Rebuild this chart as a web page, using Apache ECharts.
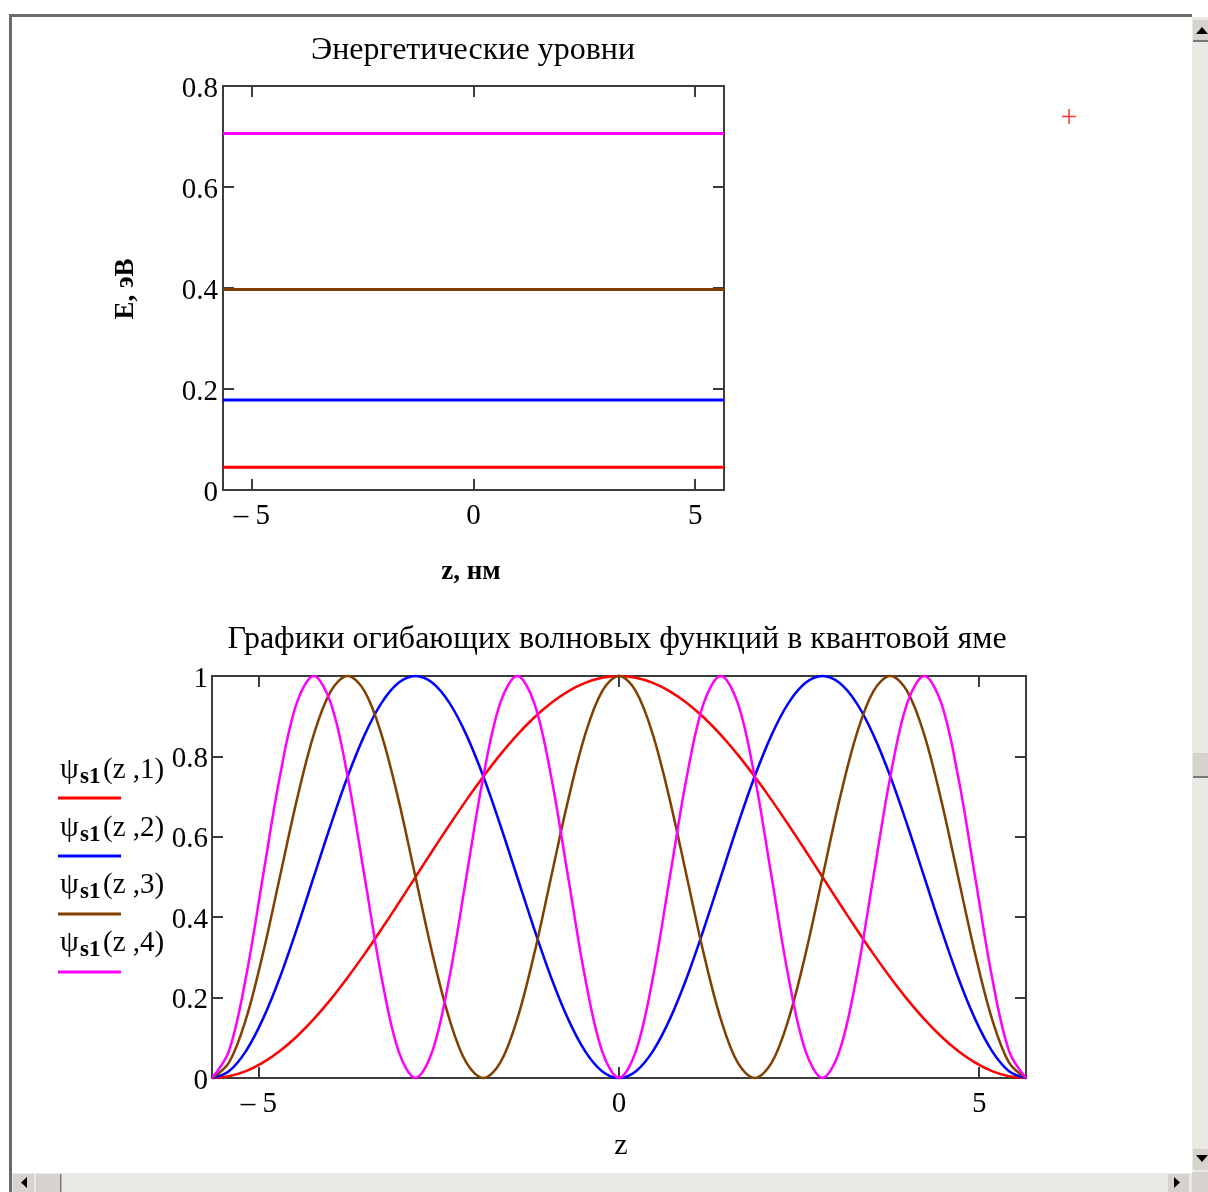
<!DOCTYPE html>
<html>
<head>
<meta charset="utf-8">
<script src="https://cdn.jsdelivr.net/npm/echarts@6/dist/echarts.min.js"></script>
<style>
  html, body { margin: 0; padding: 0; background: #ffffff; }
  #chart { width: 1208px; height: 1192px; }
</style>
</head>
<body>
<div id="chart"></div>
<script>
// ---- data ----
// energy levels of the well, eV (states 1..4)
const levelValues = [0.045, 0.178, 0.397, 0.706];
// well edges, nm
const wellEdges = [-5.65, 5.65];

// z coordinate, nm
const zValues = [
  -5.650, -5.415, -5.179, -4.944, -4.708, -4.473, -4.238, -4.002, -3.767, -3.531,
  -3.296, -3.060, -2.825, -2.590, -2.354, -2.119, -1.883, -1.648, -1.413, -1.177,
  -0.942, -0.706, -0.471, -0.235, 0,
  0.235, 0.471, 0.706, 0.942, 1.177, 1.413, 1.648, 1.883, 2.119, 2.354,
  2.590, 2.825, 3.060, 3.296, 3.531, 3.767, 4.002, 4.238, 4.473, 4.708,
  4.944, 5.179, 5.415, 5.650
];
// envelope functions psi_s1(z, n), n = 1..4
const psi1 = [
  0, 0.0043, 0.0170, 0.0381, 0.0670, 0.1033, 0.1464, 0.1956, 0.25, 0.3087,
  0.3706, 0.4347, 0.5, 0.5653, 0.6294, 0.6913, 0.75, 0.8044, 0.8536, 0.8967,
  0.9330, 0.9619, 0.9830, 0.9957, 1,
  0.9957, 0.9830, 0.9619, 0.9330, 0.8967, 0.8536, 0.8044, 0.75, 0.6913, 0.6294,
  0.5653, 0.5, 0.4347, 0.3706, 0.3087, 0.25, 0.1956, 0.1464, 0.1033, 0.0670,
  0.0381, 0.0170, 0.0043, 0
];
const psi2 = [
  0, 0.0170, 0.0670, 0.1464, 0.25, 0.3706, 0.5, 0.6294, 0.75, 0.8536,
  0.9330, 0.9830, 1, 0.9830, 0.9330, 0.8536, 0.75, 0.6294, 0.5, 0.3706,
  0.25, 0.1464, 0.0670, 0.0170, 0,
  0.0170, 0.0670, 0.1464, 0.25, 0.3706, 0.5, 0.6294, 0.75, 0.8536, 0.9330,
  0.9830, 1, 0.9830, 0.9330, 0.8536, 0.75, 0.6294, 0.5, 0.3706, 0.25,
  0.1464, 0.0670, 0.0170, 0
];
const psi3 = [
  0, 0.0381, 0.1464, 0.3087, 0.5, 0.6913, 0.8536, 0.9619, 1, 0.9619,
  0.8536, 0.6913, 0.5, 0.3087, 0.1464, 0.0381, 0, 0.0381, 0.1464, 0.3087,
  0.5, 0.6913, 0.8536, 0.9619, 1,
  0.9619, 0.8536, 0.6913, 0.5, 0.3087, 0.1464, 0.0381, 0, 0.0381, 0.1464,
  0.3087, 0.5, 0.6913, 0.8536, 0.9619, 1, 0.9619, 0.8536, 0.6913, 0.5,
  0.3087, 0.1464, 0.0381, 0
];
const psi4 = [
  0, 0.0670, 0.25, 0.5, 0.75, 0.9330, 1, 0.9330, 0.75, 0.5,
  0.25, 0.0670, 0, 0.0670, 0.25, 0.5, 0.75, 0.9330, 1, 0.9330,
  0.75, 0.5, 0.25, 0.0670, 0,
  0.0670, 0.25, 0.5, 0.75, 0.9330, 1, 0.9330, 0.75, 0.5, 0.25,
  0.0670, 0, 0.0670, 0.25, 0.5, 0.75, 0.9330, 1, 0.9330, 0.75,
  0.5, 0.25, 0.0670, 0
];

// ticks and labels
const xTickValues = [-5, 0, 5];
const legendArgs = ['(z ,1)', '(z ,2)', '(z ,3)', '(z ,4)'];
const topTitle = 'Энергетические уровни';
const bottomTitle = 'Графики огибающих волновых функций в квантовой яме';
const topYName = 'E, эВ';
const topXName = 'z, нм';
const bottomXName = 'z';

// ---- styling ----
const colors = ['#ff0000', '#0000ff', '#804000', '#ff00ff'];
const SERIF = '"Liberation Serif", "Times New Roman", serif';
const AXIS_COLOR = '#3c3c3c';
const TEXT_COLOR = '#000000';
const TICK_FONT = 29;

const psiSeries = [psi1, psi2, psi3, psi4];

function xLabel(v) {
  return v < 0 ? '\u2013 ' + Math.abs(v) : String(v);
}

function makeXAxis(gridIndex, position, showLabel) {
  return {
    type: 'value', gridIndex, position,
    min: wellEdges[0], max: wellEdges[1],
    axisLine: { show: true, onZero: false, lineStyle: { color: AXIS_COLOR, width: 2 } },
    axisTick: { show: true, inside: true, length: 11, customValues: xTickValues,
                lineStyle: { color: AXIS_COLOR, width: 2 } },
    axisLabel: { show: showLabel, customValues: xTickValues, formatter: xLabel, margin: 12,
                 fontFamily: SERIF, fontSize: TICK_FONT, color: TEXT_COLOR },
    splitLine: { show: false }
  };
}
function makeYAxis(gridIndex, position, max, showLabel, margin) {
  return {
    type: 'value', gridIndex, position,
    min: 0, max, interval: 0.2,
    axisLine: { show: true, onZero: false, lineStyle: { color: AXIS_COLOR, width: 2 } },
    axisTick: { show: true, inside: true, length: 11, lineStyle: { color: AXIS_COLOR, width: 2 } },
    axisLabel: { show: showLabel, margin, color: TEXT_COLOR,
                 showMinLabel: true, showMaxLabel: true,
                 formatter: v => '{t|' + String(Math.round(v * 10) / 10) + '}',
                 rich: { t: { fontFamily: SERIF, fontSize: TICK_FONT, color: TEXT_COLOR,
                              padding: [6, 0, 0, 0] } } },
    splitLine: { show: false }
  };
}

const series = [];
levelValues.forEach((e, i) => {
  series.push({
    type: 'line', xAxisIndex: 0, yAxisIndex: 0, silent: true,
    data: wellEdges.map(z => [z, e]),
    symbol: 'none', clip: false,
    lineStyle: { color: colors[i], width: 3 }
  });
});
psiSeries.forEach((arr, i) => {
  series.push({
    type: 'line', xAxisIndex: 2, yAxisIndex: 2, silent: true,
    data: zValues.map((z, j) => [z, arr[j]]),
    symbol: 'none', smooth: 0.35, clip: false,
    lineStyle: { color: colors[i], width: 2.5 }
  });
});

// ---- annotations, legend and window frame ----
const graphics = [];
function text(x, y, str, size, opts) {
  graphics.push(Object.assign({
    type: 'text', x, y, silent: true,
    style: Object.assign({ text: str, font: size + 'px ' + SERIF, fill: TEXT_COLOR,
                           align: 'center', verticalAlign: 'middle' }, (opts && opts.style) || {})
  }, (opts && opts.el) || {}));
}
text(473, 51, topTitle, 32);
text(617, 640, bottomTitle, 32);
text(471, 572, topXName, 27, { style: { font: 'bold 27px ' + SERIF } });
text(126, 289, topYName, 27, { style: { font: 'bold 27px ' + SERIF }, el: { rotation: Math.PI / 2 } });
text(621, 1146, bottomXName, 30);

const legendTextY = [770, 828, 885, 943];
const legendLineY = [798, 856, 914, 972];
legendArgs.forEach((arg, i) => {
  text(60, legendTextY[i], '\u03c8', 30, { style: { align: 'left' } });
  text(80, legendTextY[i] + 7, 's1', 23, { style: { align: 'left', font: 'bold 23px ' + SERIF } });
  text(103, legendTextY[i], arg, 29, { style: { align: 'left' } });
  graphics.push({
    type: 'line', silent: true,
    shape: { x1: 58, y1: legendLineY[i], x2: 121, y2: legendLineY[i] },
    style: { stroke: colors[i], lineWidth: 3 }
  });
});

// red cursor cross
graphics.push({ type: 'line', silent: true, shape: { x1: 1062, y1: 116.5, x2: 1076, y2: 116.5 },
                style: { stroke: '#ff3333', lineWidth: 1.5 } });
graphics.push({ type: 'line', silent: true, shape: { x1: 1069, y1: 109, x2: 1069, y2: 124 },
                style: { stroke: '#ff3333', lineWidth: 1.5 } });

// window frame
const FRAME = '#6a6a6a';
const TRACK = '#ebe9e4';
const BTN = '#d6d3ce';
function rect(x, y, w, h, fill, stroke) {
  graphics.push({ type: 'rect', silent: true, shape: { x, y, width: w, height: h },
                  style: { fill, stroke: stroke || null, lineWidth: stroke ? 1 : 0 } });
}
function tri(points) {
  graphics.push({ type: 'polygon', silent: true, shape: { points }, style: { fill: '#000' } });
}
rect(9, 14, 1183, 3, FRAME);
rect(9, 14, 3, 1178, FRAME);
// vertical scrollbar
rect(1192, 17, 16, 1155, TRACK);
rect(1193, 20, 15, 20, BTN);
rect(1193, 40, 15, 2, '#777');
tri([[1196, 34], [1208, 34], [1202, 27]]);
rect(1193, 753, 15, 23, BTN);
rect(1193, 776, 15, 2, '#777');
rect(1193, 1149, 15, 21, BTN);
tri([[1196, 1155], [1208, 1155], [1202, 1162]]);
// horizontal scrollbar
rect(12, 1173, 1180, 19, TRACK);
rect(13, 1174, 21, 18, BTN);
tri([[21, 1182.5], [27, 1177], [27, 1188]]);
rect(36, 1174, 24, 18, BTN);
rect(60, 1174, 1.5, 18, '#777');
rect(1168, 1174, 21, 18, BTN);
tri([[1180, 1182.5], [1174, 1177], [1174, 1188]]);
rect(1192, 1172, 16, 20, BTN);

const chart = echarts.init(document.getElementById('chart'), null, { renderer: 'canvas' });
chart.setOption({
  animation: false,
  backgroundColor: '#ffffff',
  grid: [
    { left: 223, top: 86, width: 501, height: 404 },
    { left: 212, top: 676, width: 814, height: 402 }
  ],
  xAxis: [
    makeXAxis(0, 'bottom', true),
    makeXAxis(0, 'top', false),
    makeXAxis(1, 'bottom', true),
    makeXAxis(1, 'top', false)
  ],
  yAxis: [
    makeYAxis(0, 'left', 0.8, true, 5),
    makeYAxis(0, 'right', 0.8, false, 5),
    makeYAxis(1, 'left', 1, true, 4),
    makeYAxis(1, 'right', 1, false, 4)
  ],
  series,
  graphic: graphics
});
</script>
</body>
</html>
